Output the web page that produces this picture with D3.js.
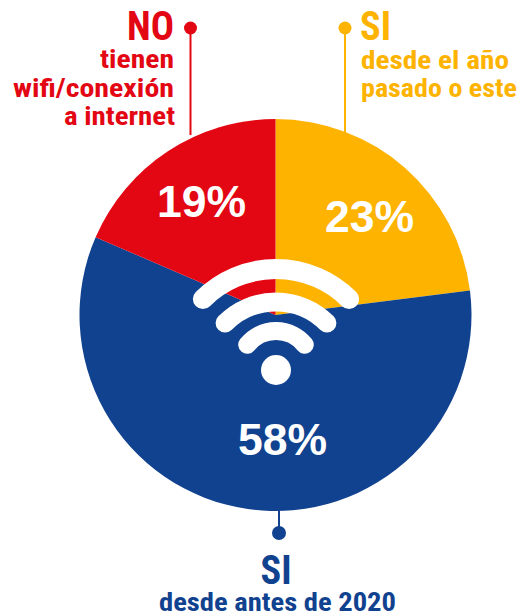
<!DOCTYPE html>
<html><head><meta charset="utf-8">
<script src="https://cdn.jsdelivr.net/npm/d3@7"></script>
<style>html,body{margin:0;padding:0;background:#fff}svg{display:block}</style>
</head><body><svg id="c" width="532" height="613"></svg>
<script>
const categories = ["SI desde el año pasado o este", "SI desde antes de 2020", "NO tienen wifi/conexión a internet"];
const values = [23, 58.5, 18.5];
const percentLabels = ["23%", "58%", "19%"];
const colours = ["#fdb300", "#11428f", "#e30613"];
const wifiColour = "#ffffff";

const svg = d3.select("#c");
const cx = 275.5, cy = 315, radius = 196;
const colour = d3.scaleOrdinal().domain(categories).range(colours);
const pie = d3.pie().sort(null).value((d, i) => values[i]);
const arcGen = d3.arc().innerRadius(0).outerRadius(radius);
const arcs = pie(categories);

const narrow = "'Liberation Sans Narrow','Roboto Condensed','Liberation Sans',sans-serif";
const sans = "'Liberation Sans',Arial,sans-serif";

// leader lines
const leaders = [
  {c: 2, x: 190.5, y0: 28, y1: 135, r: 6.5},
  {c: 0, x: 345, y0: 28, y1: 135, r: 6.5},
  {c: 1, x: 279, y0: 505, y1: 533, r: 7}
];
svg.selectAll("line.l").data(leaders).join("line").attr("class", "l")
  .attr("x1", d => d.x).attr("x2", d => d.x).attr("y1", d => d.y0).attr("y2", d => d.y1)
  .attr("stroke", d => colours[d.c]).attr("stroke-width", 2);
svg.selectAll("circle.l").data(leaders).join("circle").attr("class", "l")
  .attr("cx", d => d.x).attr("cy", d => d.c === 1 ? d.y1 : d.y0).attr("r", d => d.r)
  .attr("fill", d => colours[d.c]);

// pie
const g = svg.append("g").attr("transform", `translate(${cx},${cy})`);
g.selectAll("path").data(arcs).join("path")
  .attr("d", arcGen).attr("fill", d => colour(d.data));

// wifi icon
const wifi = [
  {cy: 373, r: 104, w: 20, a: 44.7},
  {cy: 374, r: 72, w: 19, a: 45},
  {cy: 368, r: 37, w: 18, a: 51}
];
const toRad = d3.scaleLinear().domain([0, 180]).range([0, Math.PI]);
wifi.forEach(w => {
  const p = d3.path();
  p.arc(276, w.cy, w.r, -Math.PI / 2 - toRad(w.a), -Math.PI / 2 + toRad(w.a));
  svg.append("path").attr("d", p.toString()).attr("fill", "none")
    .attr("stroke", wifiColour).attr("stroke-width", w.w).attr("stroke-linecap", "round");
});
svg.append("circle").attr("cx", 276).attr("cy", 370).attr("r", 15).attr("fill", wifiColour);

// percentages
const pct = [
  {i: 2, x: 201.5, y: 217}, {i: 0, x: 369.5, y: 232}, {i: 1, x: 282.5, y: 455}
];
svg.selectAll("text.p").data(pct).join("text").attr("class", "p")
  .attr("x", d => d.x).attr("y", d => d.y).attr("text-anchor", "middle")
  .attr("font-family", sans).attr("font-weight", 700).attr("font-size", 44.5)
  .attr("fill", "#fff").text(d => percentLabels[d.i]);

// labels
const labels = [
  {t: "NO", x: 174, y: 40, s: 40, a: "end", c: 2, w: 47},
  {t: "tienen", x: 174, y: 68, s: 26, a: "end", c: 2, w: 74},
  {t: "wifi/conexión", x: 174, y: 97, s: 26, a: "end", c: 2, w: 161},
  {t: "a internet", x: 175, y: 125, s: 26, a: "end", c: 2, w: 111},
  {t: "SI", x: 360, y: 40, s: 40, a: "start", c: 0, w: 31},
  {t: "desde el año", x: 361, y: 69, s: 26, a: "start", c: 0, w: 148 },
  {t: "pasado o este", x: 361, y: 97, s: 26, a: "start", c: 0, w: 156},
  {t: "SI", x: 276, y: 584, s: 40, a: "middle", c: 1, w: 31},
  {t: "desde antes de 2020", x: 277.5, y: 611, s: 26, a: "middle", c: 1, w: 237}
];
svg.selectAll("text.t").data(labels).join("text").attr("class", "t")
  .attr("x", d => d.x).attr("y", d => d.y).attr("text-anchor", d => d.a)
  .attr("font-family", narrow).attr("font-weight", 700).attr("font-size", d => d.s)
  .attr("textLength", d => d.w).attr("lengthAdjust", "spacingAndGlyphs")
  .attr("fill", d => colours[d.c]).text(d => d.t);
</script></body></html>
